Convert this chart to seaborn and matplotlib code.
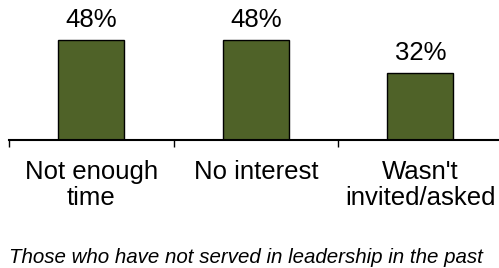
import numpy as np
import matplotlib
matplotlib.use("Agg")
import matplotlib.pyplot as plt
import seaborn as sns

# ── Données ────────────────────────────────────────────────────────────────
categories = ["Not enough\ntime", "No interest", "Wasn't\ninvited/asked"]
values     = [48, 48, 32]
labels     = ["48%", "48%", "32%"]
caption    = "Those who have not served in leadership in the past"

BAR_COLOR = "#4F6228"

sns.set_theme(style="white")
plt.rcParams["font.family"] = ["Liberation Sans", "DejaVu Sans"]
plt.rcParams["text.color"] = "black"
plt.rcParams["xtick.color"] = "black"

W, H = 499, 268
fig = plt.figure(figsize=(W / 100, H / 100), dpi=100)

# axes placed in pixel units
left, right = 9, 502.5
base, top = 139.5, 139.5 - 99.5 * 60 / 48
ax = fig.add_axes([left / W, (H - base) / H, (right - left) / W, (base - top) / H])

sns.barplot(x=categories, y=values, color=BAR_COLOR, edgecolor="black",
            linewidth=1, width=0.4, saturation=1, ax=ax)

ax.set_xlim(-0.5, 2.5)
ax.set_ylim(0, 60)
ax.bar_label(ax.containers[0], labels=labels, padding=6, fontsize=18.5,
             color="black")

# ticks between categories, labels centered under bars
ax.set_xticks([-0.5, 0.5, 1.5, 2.5])
ax.set_xticklabels([])
ax.tick_params(axis="x", which="major", direction="out", length=5,
               width=1, color="black", bottom=True)
ax.set_xticks([0, 1, 2], minor=True)
ax.set_xticklabels(categories, minor=True, fontsize=18.5, linespacing=1.1,
                   color="black")
ax.tick_params(axis="x", which="minor", length=0, pad=15)

ax.set_yticks([])
ax.set_xlabel("")
ax.set_ylabel("")
for s in ["left", "top", "right"]:
    ax.spines[s].set_visible(False)
ax.spines["bottom"].set_color("black")
ax.spines["bottom"].set_linewidth(1.5)

fig.text(9 / W, (H - 263) / H, caption, fontsize=14.8, style="italic",
         ha="left", va="baseline", color="black")

fig.savefig("out.png", dpi=100)
